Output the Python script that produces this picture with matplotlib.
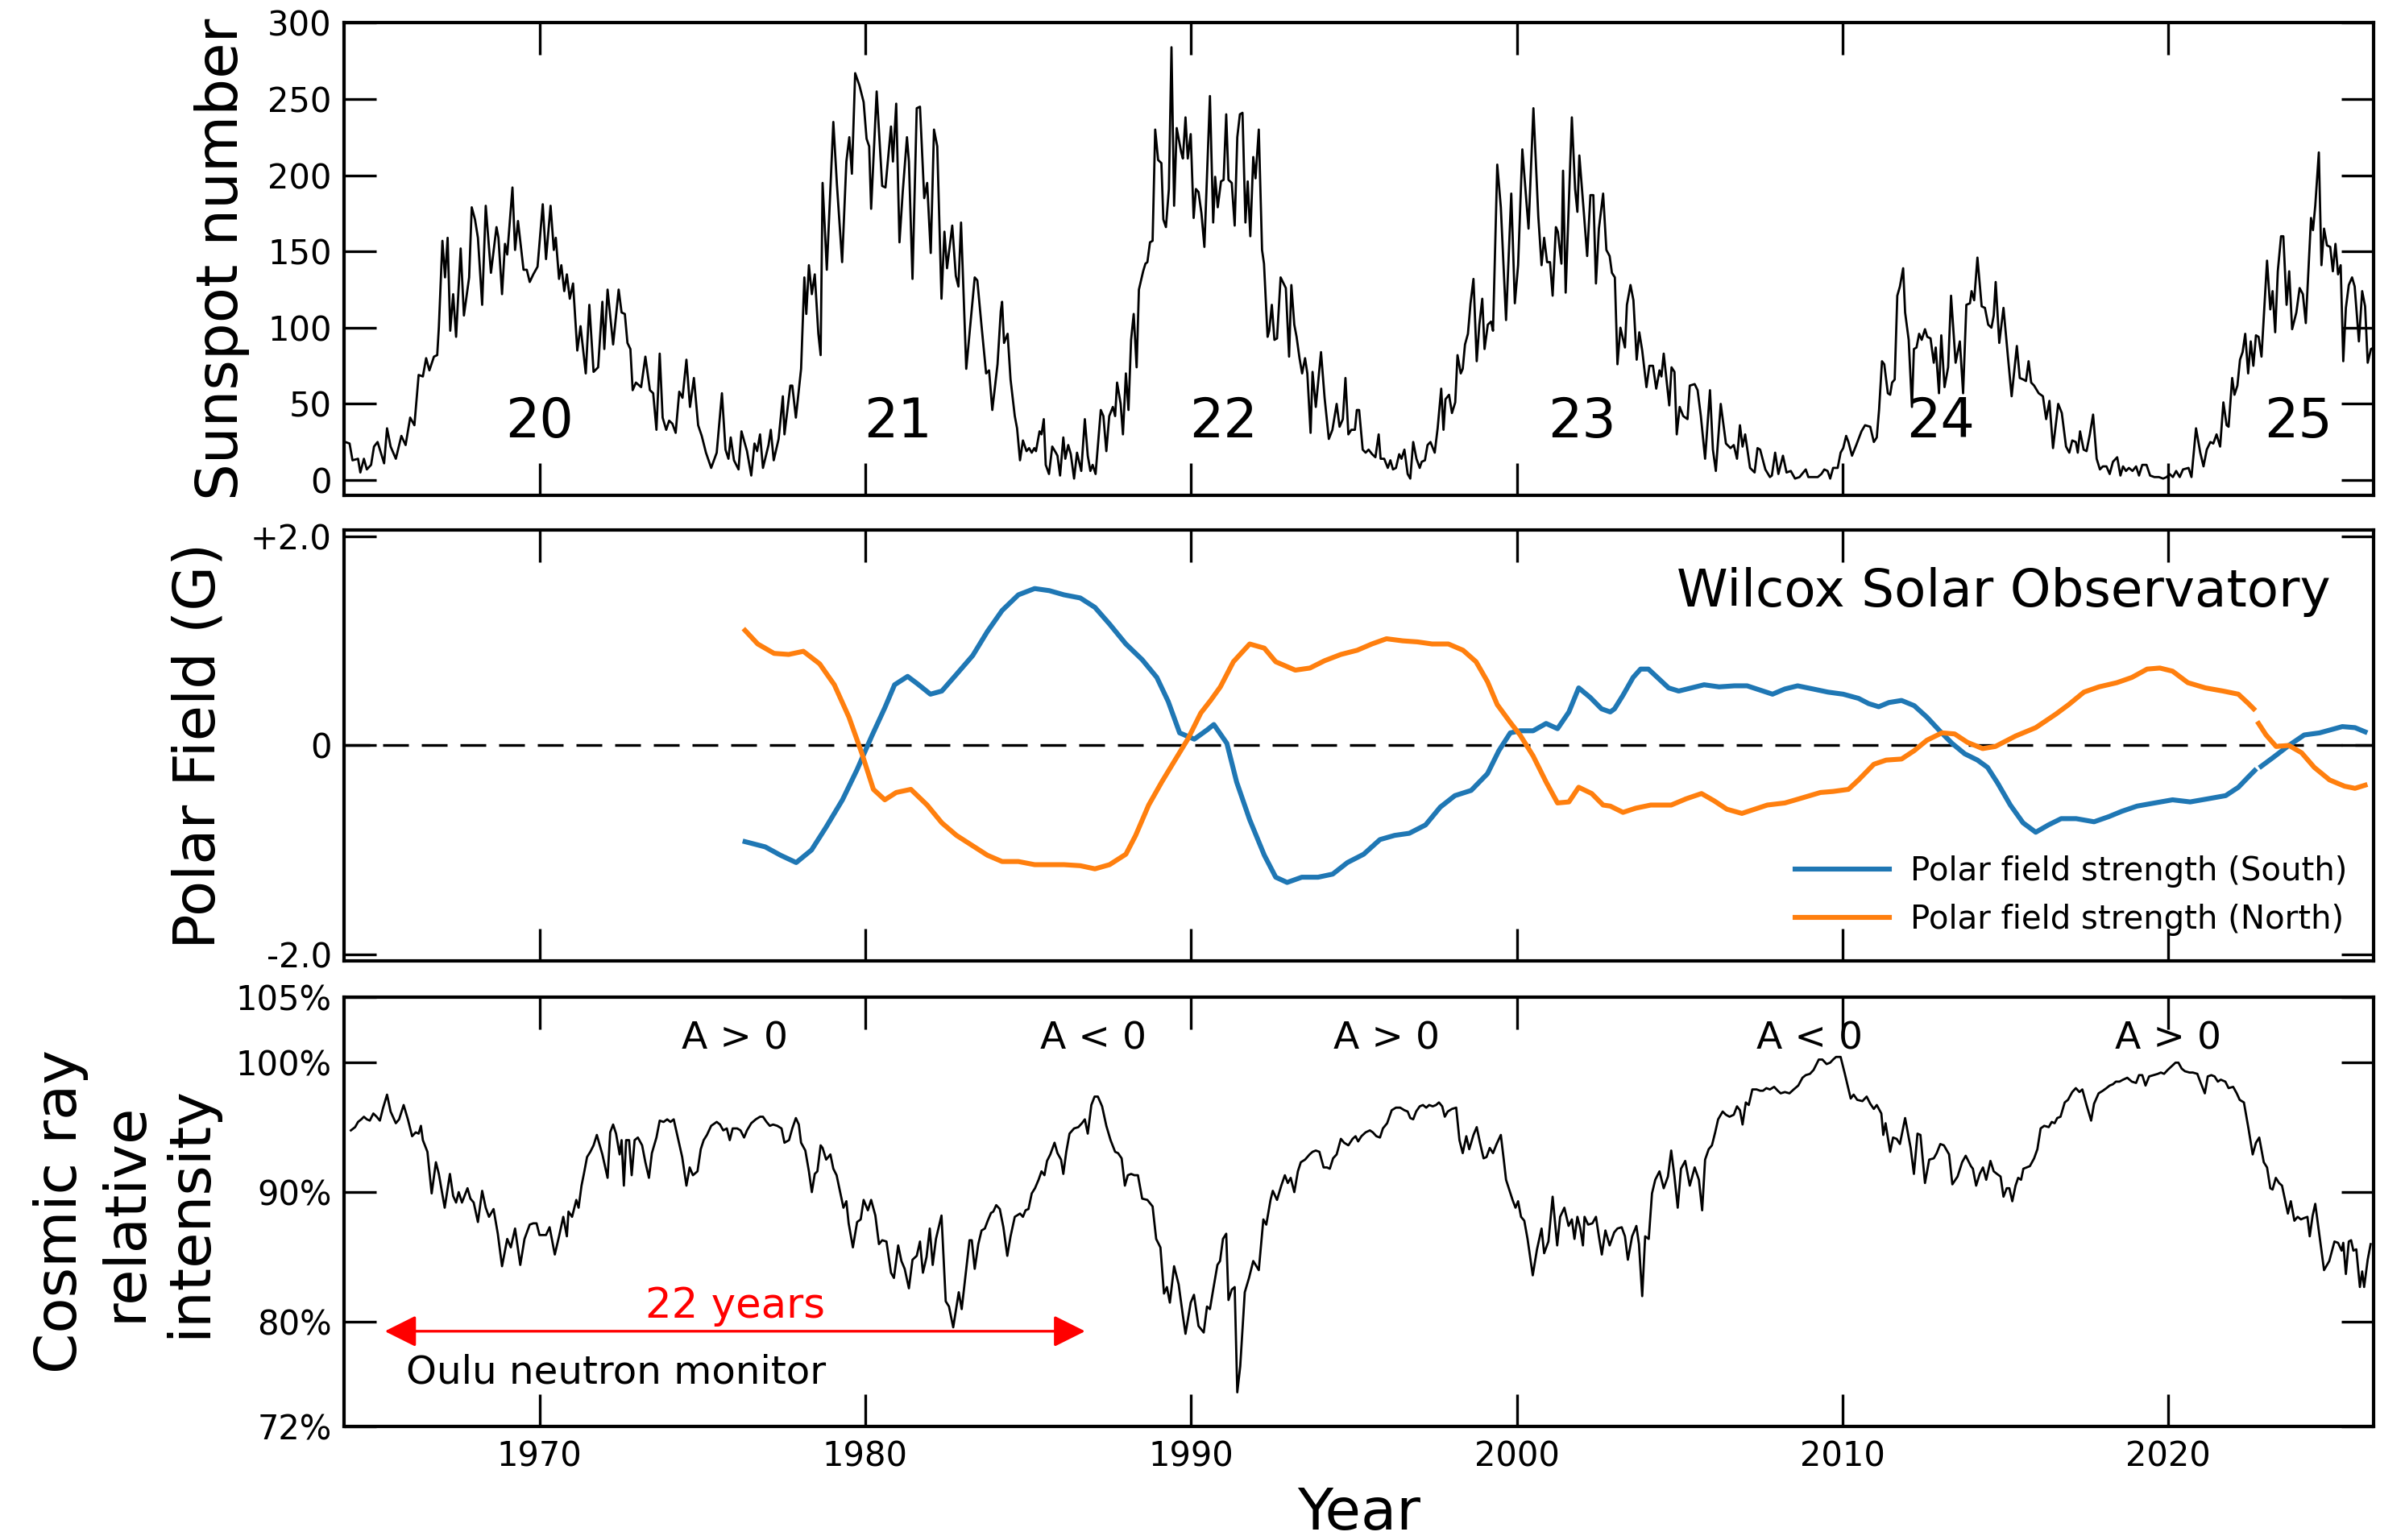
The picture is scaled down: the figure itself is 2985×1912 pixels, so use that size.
import numpy as np
import matplotlib
matplotlib.use("Agg")
import matplotlib.pyplot as plt

# ---- data (year, value) ----
sunspot_monthly = [
    (1964.04, 25), (1964.17, 24), (1964.26, 13), (1964.43, 14), (1964.50, 5), (1964.61, 14), (1964.70, 7),
    (1964.83, 10), (1964.92, 22), (1965.03, 25), (1965.23, 11), (1965.32, 34), (1965.43, 22), (1965.59, 14),
    (1965.76, 29), (1965.89, 23), (1966.03, 41), (1966.16, 36), (1966.29, 69), (1966.42, 68), (1966.52, 80),
    (1966.62, 72), (1966.76, 81), (1966.86, 82), (1966.91, 100), (1967.02, 157), (1967.10, 133), (1967.18, 159),
    (1967.26, 98), (1967.35, 122), (1967.44, 94), (1967.58, 152), (1967.68, 108), (1967.84, 133), (1967.92, 179),
    (1968.02, 171), (1968.11, 159), (1968.24, 115), (1968.35, 180), (1968.51, 136), (1968.68, 166), (1968.74, 159),
    (1968.85, 122), (1968.94, 155), (1969.01, 148), (1969.17, 192), (1969.25, 151), (1969.34, 170), (1969.51, 138),
    (1969.61, 138), (1969.70, 130), (1969.81, 135), (1969.94, 140), (1970.10, 181), (1970.20, 145), (1970.34, 180),
    (1970.44, 151), (1970.50, 159), (1970.60, 132), (1970.67, 141), (1970.76, 124), (1970.84, 135), (1970.93, 119),
    (1971.03, 129), (1971.16, 85), (1971.26, 101), (1971.42, 70), (1971.53, 115), (1971.66, 71), (1971.80, 74),
    (1971.93, 117), (1971.99, 86), (1972.09, 125), (1972.26, 89), (1972.43, 125), (1972.52, 110), (1972.62, 109),
    (1972.70, 90), (1972.79, 86), (1972.86, 59), (1972.96, 64), (1973.12, 61), (1973.25, 81), (1973.39, 59),
    (1973.49, 57), (1973.59, 33), (1973.69, 83), (1973.78, 41), (1973.89, 33), (1973.98, 39), (1974.08, 37),
    (1974.18, 31), (1974.29, 58), (1974.39, 54), (1974.51, 79), (1974.62, 48), (1974.74, 67), (1974.87, 36),
    (1974.98, 29), (1975.11, 18), (1975.27, 8), (1975.44, 18), (1975.60, 57), (1975.71, 20), (1975.80, 14),
    (1975.87, 28), (1975.97, 13), (1976.11, 7), (1976.20, 32), (1976.37, 19), (1976.50, 3), (1976.60, 24),
    (1976.68, 19), (1976.77, 30), (1976.86, 8), (1977.03, 23), (1977.10, 33), (1977.19, 13), (1977.34, 27),
    (1977.47, 55), (1977.52, 30), (1977.70, 62), (1977.76, 62), (1977.87, 41), (1978.03, 73), (1978.13, 133),
    (1978.19, 109), (1978.27, 141), (1978.36, 122), (1978.45, 135), (1978.56, 96), (1978.63, 82), (1978.69, 195),
    (1978.82, 138), (1979.02, 235), (1979.13, 194), (1979.29, 143), (1979.42, 209), (1979.51, 225), (1979.59, 201),
    (1979.69, 267), (1979.82, 259), (1979.95, 248), (1980.04, 224), (1980.12, 219), (1980.18, 178), (1980.35, 255),
    (1980.52, 193), (1980.62, 192), (1980.79, 232), (1980.85, 209), (1980.95, 247), (1981.05, 156), (1981.15, 189),
    (1981.28, 225), (1981.34, 209), (1981.45, 132), (1981.58, 244), (1981.68, 245), (1981.81, 185), (1981.90, 195),
    (1982.01, 149), (1982.11, 230), (1982.21, 219), (1982.34, 119), (1982.43, 163), (1982.51, 139), (1982.67, 167),
    (1982.78, 134), (1982.86, 127), (1982.94, 169), (1983.10, 73), (1983.36, 133), (1983.44, 131), (1983.57, 101),
    (1983.71, 70), (1983.80, 72), (1983.90, 46), (1984.06, 76), (1984.16, 111), (1984.20, 117), (1984.26, 90),
    (1984.37, 96), (1984.46, 66), (1984.59, 42),
    (1984.66, 34), (1984.75, 13), (1984.84, 26), (1984.95, 19), (1985.03, 21), (1985.11, 18), (1985.19, 21),
    (1985.24, 19), (1985.35, 32), (1985.41, 30), (1985.48, 40), (1985.54, 10), (1985.64, 4), (1985.74, 22),
    (1985.85, 18), (1985.90, 16), (1985.98, 3), (1986.08, 28), (1986.14, 14), (1986.23, 23), (1986.31, 17),
    (1986.41, 1), (1986.50, 18), (1986.63, 6), (1986.74, 40), (1986.83, 16), (1986.91, 6), (1986.98, 10),
    (1987.07, 4), (1987.23, 46), (1987.31, 42), (1987.40, 19), (1987.49, 42), (1987.60, 48), (1987.67, 42),
    (1987.73, 64), (1987.84, 50), (1987.91, 30), (1988.00, 70), (1988.08, 46), (1988.16, 92), (1988.24, 109),
    (1988.33, 74), (1988.40, 125), (1988.53, 137), (1988.60, 142), (1988.66, 143), (1988.74, 156), (1988.82, 157),
    (1988.90, 230), (1988.99, 210), (1989.09, 208), (1989.15, 171), (1989.23, 166), (1989.32, 191), (1989.40, 284),
    (1989.48, 180), (1989.56, 231), (1989.70, 215), (1989.75, 211), (1989.83, 238), (1989.90, 211), (1989.99, 227),
    (1990.08, 172), (1990.15, 191), (1990.23, 189), (1990.32, 175), (1990.41, 153), (1990.58, 252), (1990.68, 169),
    (1990.74, 199), (1990.82, 179), (1990.92, 196), (1991.00, 197), (1991.08, 240), (1991.15, 197), (1991.25, 195),
    (1991.34, 167), (1991.42, 225), (1991.50, 240), (1991.58, 241), (1991.67, 169), (1991.74, 196), (1991.82, 160),
    (1991.91, 212), (1991.98, 198), (1992.08, 230), (1992.18, 151), (1992.24, 142), (1992.35, 94), (1992.40, 98),
    (1992.48, 115), (1992.56, 92), (1992.64, 93), (1992.75, 133), (1992.91, 126), (1993.01, 81), (1993.08, 128),
    (1993.17, 102), (1993.24, 94), (1993.33, 80), (1993.41, 70), (1993.50, 80), (1993.57, 70), (1993.67, 31),
    (1993.73, 71), (1993.83, 48), (1993.99, 84), (1994.10, 54), (1994.23, 27), (1994.34, 33), (1994.47, 50),
    (1994.56, 35), (1994.66, 40), (1994.74, 67), (1994.83, 30), (1994.92, 33), (1995.03, 33), (1995.09, 46),
    (1995.16, 46), (1995.27, 20), (1995.36, 18), (1995.45, 20), (1995.56, 17), (1995.66, 15), (1995.76, 30),
    (1995.82, 14), (1995.93, 14), (1996.04, 8), (1996.12, 13), (1996.20, 7), (1996.29, 8), (1996.39, 17),
    (1996.46, 14), (1996.55, 20), (1996.65, 4), (1996.73, 1), (1996.82, 25), (1996.92, 14), (1997.02, 8),
    (1997.08, 12), (1997.18, 13), (1997.26, 23), (1997.35, 25), (1997.48, 18), (1997.57, 34), (1997.68, 60),
    (1997.75, 33), (1997.81, 53), (1997.92, 56), (1998.01, 44), (1998.11, 51), (1998.18, 82), (1998.28, 70),
    (1998.34, 73), (1998.41, 89), (1998.50, 96), (1998.58, 116), (1998.67, 132), (1998.77, 78), (1998.85, 102),
    (1998.94, 119), (1999.01, 86), (1999.11, 102), (1999.21, 104), (1999.27, 98), (1999.40, 207), (1999.51, 179),
    (1999.67, 105), (1999.83, 188), (1999.94, 116), (2000.04, 141), (2000.17, 217), (2000.36, 165), (2000.51, 244),
    (2000.66, 173), (2000.76, 141), (2000.84, 159), (2000.93, 143), (2001.02, 143), (2001.10, 121), (2001.20, 166),
    (2001.26, 163), (2001.37, 142), (2001.42, 203), (2001.50, 123), (2001.69, 238), (2001.79, 191), (2001.86, 176),
    (2001.92, 213), (2002.06, 175), (2002.16, 147), (2002.26, 187), (2002.35, 187), (2002.43, 129), (2002.52, 165),
    (2002.65, 188), (2002.75, 151), (2002.85, 147), (2002.92, 136), (2003.01, 133), (2003.09, 76), (2003.18, 100),
    (2003.32, 87), (2003.38, 115), (2003.49, 128), (2003.58, 118), (2003.68, 79), (2003.76, 97), (2003.85, 85),
    (2003.98, 61), (2004.07, 75), (2004.18, 75), (2004.28, 60), (2004.38, 72), (2004.44, 68), (2004.51, 83),
    (2004.60, 65), (2004.68, 49), (2004.75, 74), (2004.84, 71), (2004.91, 30), (2005.00, 48), (2005.11, 42),
    (2005.24, 40), (2005.31, 62),
    (2005.46, 63), (2005.55, 59), (2005.65, 42), (2005.78, 14), (2005.93, 59), (2006.02, 20), (2006.11, 6),
    (2006.26, 50), (2006.42, 24), (2006.56, 21), (2006.66, 23), (2006.76, 14), (2006.85, 36), (2006.93, 22),
    (2007.01, 30), (2007.16, 8), (2007.30, 5), (2007.39, 21), (2007.47, 20), (2007.63, 7), (2007.77, 2),
    (2007.83, 3), (2007.93, 18), (2008.03, 4), (2008.17, 16), (2008.28, 5), (2008.41, 6), (2008.54, 1),
    (2008.68, 2), (2008.87, 7), (2008.95, 2), (2009.11, 2), (2009.24, 2), (2009.35, 4), (2009.44, 7),
    (2009.54, 6), (2009.62, 1), (2009.71, 8), (2009.85, 8), (2009.94, 18), (2010.02, 21), (2010.11, 29),
    (2010.18, 25), (2010.29, 16), (2010.42, 23), (2010.58, 32), (2010.69, 36), (2010.85, 35), (2010.96, 25),
    (2011.05, 28), (2011.12, 46), (2011.21, 78), (2011.28, 76), (2011.39, 57), (2011.46, 56), (2011.52, 64),
    (2011.60, 66), (2011.68, 121), (2011.76, 127), (2011.86, 139), (2011.92, 110), (2012.03, 92), (2012.13, 48),
    (2012.19, 86), (2012.27, 87), (2012.35, 96), (2012.43, 92), (2012.53, 99), (2012.60, 94), (2012.70, 93),
    (2012.80, 77), (2012.86, 87), (2012.96, 57), (2013.03, 95), (2013.13, 61), (2013.24, 74), (2013.33, 121),
    (2013.47, 77), (2013.60, 91), (2013.70, 57), (2013.80, 115), (2013.91, 116), (2013.96, 124), (2014.04, 118),
    (2014.14, 146), (2014.27, 114), (2014.37, 113), (2014.47, 102), (2014.57, 100), (2014.64, 108), (2014.70, 130),
    (2014.81, 90), (2014.94, 113), (2015.08, 80), (2015.19, 55), (2015.35, 88), (2015.44, 67), (2015.55, 66),
    (2015.63, 65), (2015.71, 78), (2015.79, 64), (2015.88, 62), (2016.02, 57), (2016.15, 55), (2016.25, 40),
    (2016.35, 52), (2016.46, 21), (2016.62, 50), (2016.73, 44), (2016.86, 22), (2016.96, 18), (2017.05, 26),
    (2017.16, 25), (2017.22, 18), (2017.29, 32), (2017.40, 20), (2017.49, 19), (2017.59, 30), (2017.69, 43),
    (2017.80, 14), (2017.90, 7), (2017.99, 9), (2018.10, 9), (2018.20, 4), (2018.30, 12), (2018.43, 15),
    (2018.53, 3), (2018.61, 9), (2018.70, 6), (2018.79, 8), (2018.90, 6), (2019.01, 9), (2019.10, 3),
    (2019.20, 10), (2019.33, 10), (2019.44, 3), (2019.57, 2), (2019.71, 2), (2019.84, 1), (2019.95, 2),
    (2020.04, 4), (2020.14, 2), (2020.24, 6), (2020.35, 2), (2020.45, 7), (2020.62, 8), (2020.71, 2),
    (2020.85, 34), (2020.98, 18), (2021.08, 9), (2021.18, 20), (2021.29, 25), (2021.38, 24), (2021.48, 30),
    (2021.59, 22), (2021.69, 51), (2021.79, 36), (2021.85, 35), (2021.96, 67), (2022.03, 56), (2022.12, 62),
    (2022.20, 79), (2022.28, 84), (2022.36, 96), (2022.45, 70), (2022.53, 91), (2022.61, 75), (2022.69, 95),
    (2022.77, 94), (2022.86, 81), (2023.03, 144), (2023.13, 112), (2023.20, 124), (2023.28, 97), (2023.36, 137),
    (2023.46, 160), (2023.53, 160), (2023.63, 115), (2023.71, 137), (2023.80, 99), (2023.93, 110), (2024.03, 126),
    (2024.13, 122), (2024.22, 103), (2024.30, 137), (2024.38, 172), (2024.44, 164), (2024.51, 180), (2024.62, 215),
    (2024.70, 141), (2024.78, 165), (2024.87, 154), (2024.97, 153), (2025.05, 137), (2025.13, 155), (2025.21, 135),
    (2025.29, 141), (2025.37, 78), (2025.45, 113), (2025.54, 128), (2025.64, 133), (2025.72, 127), (2025.85, 91),
    (2025.95, 124), (2026.04, 114), (2026.12, 77), (2026.22, 86), (2026.31, 87),
]

# Wilcox polar field (G); nan marks the data gap
polar_south = [
    (1976.31, -0.92), (1976.93, -0.97), (1977.40, -1.05), (1977.88, -1.12), (1978.35, -1.00), (1978.80, -0.78),
    (1979.30, -0.52), (1979.75, -0.23), (1980.20, 0.09), (1980.60, 0.36), (1980.90, 0.58), (1981.30, 0.66),
    (1981.60, 0.59), (1982.00, 0.49), (1982.35, 0.52), (1982.80, 0.68), (1983.30, 0.86), (1983.75, 1.09),
    (1984.20, 1.29), (1984.70, 1.44), (1985.20, 1.50), (1985.65, 1.48), (1986.10, 1.44), (1986.60, 1.41),
    (1987.05, 1.32), (1987.50, 1.16), (1988.00, 0.97), (1988.50, 0.82), (1988.95, 0.65), (1989.30, 0.42),
    (1989.65, 0.12), (1990.10, 0.06), (1990.50, 0.15), (1990.70, 0.20), (1991.10, 0.02), (1991.40, -0.35),
    (1991.80, -0.71), (1992.25, -1.05), (1992.60, -1.26), (1992.95, -1.31), (1993.40, -1.26), (1993.90, -1.26),
    (1994.35, -1.23), (1994.80, -1.12), (1995.30, -1.04), (1995.80, -0.90), (1996.25, -0.86), (1996.70, -0.84),
    (1997.20, -0.76), (1997.65, -0.59), (1998.10, -0.48), (1998.60, -0.43), (1999.10, -0.27), (1999.45, -0.05),
    (1999.80, 0.12), (2000.10, 0.14), (2000.50, 0.14), (2000.90, 0.21), (2001.25, 0.16), (2001.60, 0.32),
    (2001.90, 0.55), (2002.25, 0.46), (2002.60, 0.35), (2002.87, 0.32), (2003.00, 0.35), (2003.26, 0.48),
    (2003.57, 0.65), (2003.80, 0.73), (2004.04, 0.73), (2004.35, 0.64), (2004.66, 0.55), (2004.97, 0.52),
    (2005.36, 0.55), (2005.75, 0.58), (2006.21, 0.56), (2006.68, 0.57), (2007.07, 0.57), (2007.46, 0.53),
    (2007.85, 0.49), (2008.23, 0.54), (2008.62, 0.57), (2009.09, 0.54), (2009.55, 0.51), (2010.02, 0.49),
    (2010.49, 0.45), (2010.80, 0.40), (2011.11, 0.37), (2011.42, 0.41), (2011.81, 0.43), (2012.20, 0.38),
    (2012.59, 0.27), (2012.98, 0.14), (2013.36, 0.02), (2013.75, -0.08), (2014.14, -0.14), (2014.45, -0.21),
    (2014.76, -0.36), (2015.15, -0.57), (2015.54, -0.74), (2015.93, -0.83), (2016.32, -0.76), (2016.71, -0.70),
    (2017.17, -0.70), (2017.72, -0.73), (2018.18, -0.68), (2018.57, -0.63), (2019.04, -0.58), (2019.58, -0.55),
    (2020.13, -0.52), (2020.67, -0.54), (2021.22, -0.51), (2021.76, -0.48), (2022.15, -0.40), (2022.46, -0.30),
    (2022.65, -0.24), (2022.74, np.nan), (2022.85, -0.20), (2023.24, -0.11), (2023.70, 0.00), (2024.17, 0.10),
    (2024.64, 0.12), (2025.34, 0.18), (2025.73, 0.17), (2026.04, 0.13),
]
polar_north = [
    (1976.31, 1.10), (1976.70, 0.97), (1977.20, 0.88), (1977.65, 0.87), (1978.10, 0.90), (1978.60, 0.78),
    (1979.05, 0.58), (1979.50, 0.27), (1979.90, -0.08), (1980.25, -0.42), (1980.60, -0.52), (1980.95, -0.45),
    (1981.40, -0.42), (1981.90, -0.57), (1982.35, -0.74), (1982.80, -0.86), (1983.30, -0.96), (1983.75, -1.05),
    (1984.20, -1.11), (1984.70, -1.11), (1985.20, -1.14), (1985.65, -1.14), (1986.10, -1.14), (1986.60, -1.15),
    (1987.05, -1.18), (1987.50, -1.14), (1988.00, -1.04), (1988.30, -0.86), (1988.70, -0.57), (1989.10, -0.35),
    (1989.45, -0.17), (1989.90, 0.06), (1990.30, 0.31), (1990.60, 0.43), (1990.90, 0.56), (1991.30, 0.80),
    (1991.80, 0.97), (1992.25, 0.93), (1992.60, 0.80), (1993.20, 0.72), (1993.65, 0.74), (1994.10, 0.81),
    (1994.60, 0.87), (1995.10, 0.91), (1995.55, 0.97), (1996.00, 1.02), (1996.50, 1.00), (1996.95, 0.99),
    (1997.40, 0.97), (1997.90, 0.97), (1998.35, 0.91), (1998.75, 0.80), (1999.10, 0.61), (1999.40, 0.39),
    (1999.80, 0.22), (2000.10, 0.10), (2000.50, -0.10), (2000.90, -0.35), (2001.25, -0.55), (2001.60, -0.54),
    (2001.90, -0.40), (2002.30, -0.46), (2002.65, -0.57), (2002.87, -0.58), (2003.26, -0.64), (2003.65, -0.60),
    (2004.11, -0.57), (2004.74, -0.57), (2005.20, -0.51), (2005.67, -0.46), (2006.06, -0.53), (2006.45, -0.61),
    (2006.91, -0.65), (2007.30, -0.61), (2007.69, -0.57), (2008.23, -0.55), (2008.78, -0.50), (2009.32, -0.45),
    (2009.71, -0.44), (2010.18, -0.42), (2010.49, -0.33), (2010.96, -0.18), (2011.34, -0.14), (2011.81, -0.13),
    (2012.20, -0.05), (2012.59, 0.05), (2013.05, 0.12), (2013.44, 0.11), (2013.83, 0.03), (2014.30, -0.03),
    (2014.69, -0.01), (2015.31, 0.09), (2015.93, 0.17), (2016.55, 0.30), (2016.94, 0.39), (2017.41, 0.51),
    (2017.87, 0.56), (2018.42, 0.60), (2018.88, 0.65), (2019.35, 0.73), (2019.74, 0.74), (2020.13, 0.71),
    (2020.60, 0.60), (2021.14, 0.55), (2021.68, 0.52), (2022.15, 0.49), (2022.46, 0.40), (2022.62, 0.35),
    (2022.70, np.nan), (2022.77, 0.21), (2023.00, 0.10), (2023.31, -0.01), (2023.70, 0.00), (2024.09, -0.07),
    (2024.48, -0.21), (2024.95, -0.33), (2025.41, -0.39), (2025.73, -0.41), (2026.04, -0.38),
]

# Oulu neutron monitor, relative intensity (%)
oulu_monthly = [
    (1964.21, 94.75), (1964.34, 95.0), (1964.43, 95.4), (1964.53, 95.6), (1964.61, 95.8), (1964.70, 95.6),
    (1964.79, 95.5), (1964.90, 96.05), (1965.00, 95.8), (1965.10, 95.5), (1965.19, 96.4), (1965.32, 97.5),
    (1965.43, 96.2), (1965.59, 95.3), (1965.69, 95.6), (1965.83, 96.7), (1965.96, 95.6), (1966.09, 94.3),
    (1966.20, 94.6), (1966.29, 94.5), (1966.36, 95.1), (1966.42, 94.0), (1966.56, 93.1), (1966.69, 89.9),
    (1966.82, 92.3), (1966.91, 91.4), (1967.09, 88.8), (1967.25, 91.4), (1967.35, 89.7), (1967.44, 89.2),
    (1967.52, 90.0), (1967.62, 89.2), (1967.79, 90.3), (1967.88, 89.5), (1967.98, 89.2), (1968.11, 87.7),
    (1968.24, 90.1), (1968.35, 88.8), (1968.45, 88.1), (1968.59, 88.7), (1968.72, 86.8), (1968.85, 84.3),
    (1969.01, 86.4), (1969.12, 85.75), (1969.25, 87.2), (1969.41, 84.4), (1969.54, 86.4), (1969.70, 87.5),
    (1969.81, 87.6), (1969.91, 87.6), (1970.00, 86.7), (1970.20, 86.7), (1970.31, 87.3), (1970.47, 85.2),
    (1970.60, 86.6), (1970.73, 88.1), (1970.84, 86.6), (1970.89, 88.5), (1971.00, 88.1), (1971.13, 89.4),
    (1971.20, 88.8), (1971.29, 90.5), (1971.37, 91.5), (1971.46, 92.7), (1971.56, 93.1), (1971.66, 93.6),
    (1971.76, 94.4), (1971.93, 92.9), (1972.09, 91.1), (1972.17, 94.6), (1972.26, 95.2), (1972.35, 94.5),
    (1972.46, 92.9), (1972.52, 94.0), (1972.59, 90.5), (1972.66, 94.0), (1972.75, 94.0), (1972.83, 91.3),
    (1972.92, 94.0), (1973.02, 94.2), (1973.15, 93.6), (1973.25, 92.3), (1973.36, 91.1), (1973.45, 93.0),
    (1973.59, 94.2), (1973.69, 95.5), (1973.81, 95.4), (1973.92, 95.6), (1974.02, 95.4), (1974.12, 95.6),
    (1974.21, 94.6), (1974.38, 92.7), (1974.51, 90.5), (1974.61, 91.9), (1974.71, 91.3), (1974.85, 91.6),
    (1974.95, 93.3), (1975.04, 94.0), (1975.14, 94.4), (1975.27, 95.1), (1975.44, 95.4), (1975.54, 95.2),
    (1975.64, 94.75), (1975.75, 94.9), (1975.84, 94.0), (1975.93, 94.9), (1976.07, 94.9), (1976.17, 94.75),
    (1976.28, 94.2), (1976.37, 94.75), (1976.50, 95.3), (1976.64, 95.6), (1976.77, 95.8), (1976.86, 95.8),
    (1976.97, 95.4), (1977.07, 95.1), (1977.17, 95.2), (1977.30, 95.1), (1977.43, 94.9), (1977.52, 93.8),
    (1977.66, 94.0), (1977.76, 94.9), (1977.87, 95.7), (1977.96, 95.2), (1978.03, 93.8), (1978.16, 93.2),
    (1978.27, 91.6), (1978.36, 90.0), (1978.45, 91.4), (1978.53, 91.6), (1978.63, 93.6), (1978.69, 93.4),
    (1978.80, 92.5), (1978.93, 92.9), (1979.02, 91.8), (1979.12, 91.3), (1979.22, 90.1), (1979.33, 88.8),
    (1979.42, 89.3), (1979.49, 87.6), (1979.62, 85.75), (1979.75, 87.7), (1979.86, 87.9), (1979.95, 89.4),
    (1980.08, 88.6), (1980.18, 89.4), (1980.31, 88.2), (1980.42, 86.0), (1980.52, 86.3), (1980.65, 86.2),
    (1980.79, 83.8), (1980.88, 83.4), (1981.01, 85.9), (1981.11, 84.7), (1981.21, 84.1), (1981.34, 82.6),
    (1981.45, 84.8), (1981.58, 85.1), (1981.68, 86.2), (1981.77, 83.8), (1981.88, 85.0), (1981.98, 87.2),
    (1982.07, 84.4), (1982.17, 86.4), (1982.34, 88.2), (1982.47, 81.6), (1982.57, 81.2), (1982.70, 79.6),
    (1982.87, 82.3), (1982.96, 81.0), (1983.10, 84.1), (1983.20, 86.3), (1983.27, 86.3), (1983.36, 84.1),
    (1983.47, 86.0), (1983.57, 87.05), (1983.67, 87.2), (1983.76, 87.8), (1983.86, 88.4), (1983.93, 88.5),
    (1984.02, 89.0), (1984.13, 88.7), (1984.24, 87.3), (1984.36, 85.1), (1984.46, 86.6), (1984.59, 88.1),
    (1984.75, 88.35), (1984.84, 88.1), (1984.92, 88.6), (1985.01, 88.7), (1985.11, 89.9), (1985.21, 90.3),
    (1985.32, 90.95), (1985.41, 91.6), (1985.50, 91.3), (1985.58, 92.4), (1985.68, 92.9), (1985.81, 93.8),
    (1985.90, 93.0), (1986.01, 92.5), (1986.08, 91.4), (1986.17, 93.1), (1986.27, 94.5), (1986.41, 94.9),
    (1986.54, 95.0), (1986.65, 95.3), (1986.74, 95.6), (1986.83, 94.5), (1986.94, 96.7), (1987.04, 97.35),
    (1987.14, 97.35), (1987.27, 96.6), (1987.40, 95.1), (1987.53, 94.0), (1987.67, 93.1), (1987.76, 93.0),
    (1987.87, 92.6), (1987.97, 90.5), (1988.06, 91.3), (1988.16, 91.4), (1988.26, 91.3), (1988.37, 91.3),
    (1988.50, 89.5), (1988.66, 89.4), (1988.82, 88.9), (1988.93, 86.4), (1989.06, 85.75), (1989.17, 82.2),
    (1989.26, 82.7), (1989.35, 81.5), (1989.48, 84.3), (1989.62, 82.9), (1989.75, 80.5), (1989.83, 79.1),
    (1989.99, 81.5), (1990.09, 82.1), (1990.23, 79.7), (1990.39, 79.2), (1990.49, 81.2), (1990.58, 81.0),
    (1990.68, 82.5), (1990.81, 84.4), (1990.89, 84.7), (1990.98, 86.4), (1991.08, 86.8), (1991.15, 81.7),
    (1991.25, 82.5), (1991.34, 82.7), (1991.42, 74.6), (1991.51, 76.6), (1991.65, 82.3), (1991.78, 83.4),
    (1991.91, 84.7), (1992.08, 84.0), (1992.22, 87.9), (1992.31, 87.5), (1992.44, 89.4), (1992.51, 90.1),
    (1992.64, 89.4), (1992.77, 90.5), (1992.88, 91.3), (1992.97, 90.7), (1993.06, 91.1), (1993.17, 90.0),
    (1993.28, 91.6), (1993.37, 92.3), (1993.50, 92.5), (1993.64, 92.9), (1993.73, 93.1), (1993.83, 93.2),
    (1993.94, 93.1), (1994.07, 91.9), (1994.17, 91.9), (1994.26, 91.8), (1994.36, 92.6), (1994.47, 92.9),
    (1994.60, 94.1), (1994.70, 93.8), (1994.83, 93.6), (1994.96, 94.1), (1995.05, 94.3), (1995.13, 93.9),
    (1995.23, 94.3), (1995.36, 94.6), (1995.49, 94.75), (1995.58, 94.6), (1995.69, 94.3), (1995.80, 94.2),
    (1995.89, 94.9), (1996.02, 95.3), (1996.16, 96.3), (1996.29, 96.5), (1996.42, 96.5), (1996.55, 96.3),
    (1996.65, 96.2), (1996.73, 95.7), (1996.82, 95.6), (1996.91, 96.2), (1997.02, 96.6), (1997.12, 96.7),
    (1997.22, 96.5), (1997.31, 96.7), (1997.42, 96.6), (1997.52, 96.7), (1997.61, 96.9), (1997.71, 96.6),
    (1997.79, 95.8), (1997.88, 96.2), (1998.01, 96.4), (1998.14, 96.5), (1998.24, 94.0), (1998.34, 93.0),
    (1998.45, 94.3), (1998.54, 93.3), (1998.67, 94.4), (1998.77, 95.0), (1998.87, 93.8), (1998.98, 92.6),
    (1999.07, 92.7), (1999.17, 93.4), (1999.27, 93.0), (1999.38, 93.7), (1999.51, 94.4), (1999.60, 92.5),
    (1999.67, 90.95), (1999.78, 90.1), (1999.87, 89.4), (1999.96, 88.8), (2000.04, 89.3), (2000.13, 88.1),
    (2000.23, 87.8), (2000.33, 86.4), (2000.49, 83.6), (2000.62, 85.6), (2000.76, 87.2), (2000.84, 85.3),
    (2000.97, 86.2), (2001.10, 89.65), (2001.24, 85.9), (2001.33, 88.1), (2001.46, 88.8), (2001.59, 87.4),
    (2001.69, 87.9), (2001.77, 86.4), (2001.86, 88.1), (2001.95, 87.2), (2002.03, 85.9), (2002.08, 88.1),
    (2002.19, 87.5), (2002.32, 87.6), (2002.43, 88.1), (2002.52, 86.6), (2002.61, 85.2), (2002.72, 87.05),
    (2002.85, 85.9), (2002.99, 86.9), (2003.09, 87.2), (2003.22, 87.3), (2003.32, 86.6), (2003.41, 84.8),
    (2003.54, 86.6), (2003.67, 87.4), (2003.75, 86.0), (2003.85, 82.0), (2003.94, 86.6), (2004.05, 86.4),
    (2004.15, 89.9), (2004.25, 90.95), (2004.38, 91.6), (2004.51, 90.3), (2004.64, 91.2), (2004.74, 93.2),
    (2004.84, 91.2), (2004.94, 88.8), (2005.04, 91.8), (2005.17, 92.4), (2005.31, 90.5),
    (2005.46, 91.9), (2005.59, 90.95), (2005.69, 88.6), (2005.78, 92.5), (2005.89, 93.3), (2005.99, 93.6),
    (2006.09, 94.6), (2006.18, 95.6), (2006.32, 96.2), (2006.42, 95.95), (2006.53, 95.8), (2006.66, 95.95),
    (2006.76, 96.6), (2006.85, 96.3), (2006.93, 95.2), (2007.03, 96.9), (2007.12, 96.7), (2007.23, 97.9),
    (2007.36, 97.9), (2007.47, 97.8), (2007.56, 97.8), (2007.66, 98.0), (2007.77, 97.9), (2007.90, 98.1),
    (2008.01, 97.8), (2008.10, 97.6), (2008.23, 97.7), (2008.37, 97.6), (2008.50, 97.9), (2008.64, 98.2),
    (2008.77, 98.8), (2008.87, 99.0), (2009.00, 99.1), (2009.11, 99.4), (2009.27, 100.2), (2009.38, 100.2),
    (2009.51, 99.85), (2009.62, 99.96), (2009.71, 100.2), (2009.80, 100.4), (2009.94, 100.4), (2010.07, 99.1),
    (2010.25, 97.2), (2010.34, 97.5), (2010.45, 97.1), (2010.61, 97.0), (2010.74, 97.35), (2010.85, 96.8),
    (2010.96, 96.4), (2011.05, 96.7), (2011.19, 96.05), (2011.25, 94.4), (2011.32, 95.3), (2011.46, 93.1),
    (2011.55, 94.2), (2011.66, 94.1), (2011.76, 93.7), (2011.92, 95.7), (2012.09, 93.4), (2012.19, 91.4),
    (2012.30, 94.5), (2012.39, 94.4), (2012.53, 90.7), (2012.66, 92.5), (2012.80, 92.6), (2012.89, 93.0),
    (2013.00, 93.7), (2013.11, 93.6), (2013.27, 92.9), (2013.37, 90.6), (2013.53, 91.2), (2013.67, 92.3),
    (2013.78, 92.8), (2013.94, 92.0), (2014.00, 91.8), (2014.10, 90.5), (2014.21, 91.4), (2014.31, 91.9),
    (2014.41, 90.95), (2014.54, 92.4), (2014.64, 91.6), (2014.74, 91.4), (2014.85, 91.2), (2014.94, 89.65),
    (2015.04, 90.3), (2015.12, 90.3), (2015.21, 89.3), (2015.31, 90.5), (2015.39, 91.1), (2015.48, 90.95),
    (2015.55, 91.8), (2015.65, 91.9), (2015.75, 92.0), (2015.88, 92.6), (2015.98, 93.3), (2016.08, 94.9),
    (2016.19, 95.1), (2016.33, 95.0), (2016.42, 95.4), (2016.51, 95.3), (2016.59, 95.7), (2016.69, 95.8),
    (2016.82, 96.9), (2016.92, 97.1), (2017.05, 97.7), (2017.16, 98.0), (2017.27, 97.7), (2017.36, 97.9),
    (2017.49, 96.7), (2017.63, 95.5), (2017.72, 96.8), (2017.86, 97.6), (2017.99, 97.8), (2018.10, 98.0),
    (2018.20, 98.2), (2018.30, 98.3), (2018.39, 98.5), (2018.50, 98.5), (2018.61, 98.65), (2018.74, 98.8),
    (2018.88, 98.5), (2019.01, 98.4), (2019.10, 99.0), (2019.20, 99.0), (2019.30, 98.2), (2019.41, 98.9),
    (2019.55, 99.0), (2019.68, 99.1), (2019.77, 99.2), (2019.87, 99.1), (2019.98, 99.4), (2020.11, 99.7),
    (2020.22, 99.96), (2020.31, 99.96), (2020.41, 99.5), (2020.51, 99.3), (2020.65, 99.2), (2020.75, 99.2),
    (2020.89, 99.1), (2020.98, 98.5), (2021.12, 97.6), (2021.21, 98.9), (2021.32, 99.0), (2021.42, 98.9),
    (2021.52, 98.5), (2021.61, 98.65), (2021.75, 98.5), (2021.85, 98.0), (2021.99, 98.1), (2022.10, 97.6),
    (2022.19, 97.1), (2022.32, 96.9), (2022.46, 94.9), (2022.59, 92.9), (2022.69, 93.8), (2022.79, 94.2),
    (2022.93, 92.3), (2023.03, 91.9), (2023.13, 90.3), (2023.20, 90.2), (2023.30, 91.1), (2023.40, 90.7),
    (2023.49, 90.5), (2023.67, 88.35), (2023.76, 89.3), (2023.87, 87.8), (2023.97, 88.1), (2024.07, 87.9),
    (2024.16, 88.0), (2024.27, 88.1), (2024.34, 86.6), (2024.43, 88.2), (2024.51, 89.1), (2024.78, 84.0),
    (2024.94, 84.7), (2025.10, 86.2), (2025.21, 86.1), (2025.32, 85.5), (2025.37, 86.1), (2025.45, 83.7),
    (2025.54, 86.2), (2025.61, 86.3), (2025.68, 85.5), (2025.77, 85.6), (2025.88, 82.7), (2025.95, 83.9),
    (2026.01, 82.7), (2026.12, 84.8), (2026.21, 86.0),
]

cycle_labels = ["20", "21", "22", "23", "24", "25"]
cycle_years = [1970, 1981, 1991, 2002, 2013, 2024]
polarity_labels = ["A > 0", "A < 0", "A > 0", "A < 0", "A > 0"]
polarity_years = [1976, 1987, 1996, 2009, 2020]
year_ticks = [1970, 1980, 1990, 2000, 2010, 2020]
ssn_ticks = [0, 50, 100, 150, 200, 250, 300]
field_ticks = [-2.0, 0, 2.0]
field_tick_labels = ["-2.0", "0", "+2.0"]
cr_ticks = [72, 80, 90, 100, 105]
cr_tick_labels = ["72%", "80%", "90%", "100%", "105%"]

ssn = np.array(sunspot_monthly)
south = np.array(polar_south)
north = np.array(polar_north)
oulu = np.array(oulu_monthly)

# ---- figure ----
fig = plt.figure(figsize=(14.925, 9.56), dpi=200)
left, width = 0.14305, 0.84388
ax1 = fig.add_axes([left, 0.67835, width, 0.3068])
ax2 = fig.add_axes([left, 0.37605, width, 0.27981], sharex=ax1)
ax3 = fig.add_axes([left, 0.07395, width, 0.27856], sharex=ax1)

for ax in (ax1, ax2, ax3):
    ax.tick_params(direction="in", length=14.4, width=1.2, top=True, right=True,
                   labelsize=15, pad=5.5)
    ax.tick_params(axis="x", pad=6)
    for sp in ax.spines.values():
        sp.set_linewidth(1.5)
ax1.tick_params(labelbottom=False)
ax2.tick_params(labelbottom=False)

# panel 1: sunspot number
ax1.plot(ssn[:, 0], ssn[:, 1], color="black", lw=1.0)
ax1.set_ylim(-10, 300)
ax1.set_yticks(ssn_ticks)
ax1.set_xlim(1964.0, 2026.3)
ax1.set_xticks(year_ticks)
for lab, yr in zip(cycle_labels, cycle_years):
    ax1.text(yr, 28, lab, fontsize=24, ha="center", va="baseline")
ax1.set_ylabel("Sunspot number", fontsize=26, va="center")
ax1.yaxis.set_label_coords(-0.060, 0.5)

# panel 2: polar field
ax2.axhline(0, color="black", lw=1.2, ls=(0, (9.6, 4.8)))
ax2.plot(south[:, 0], south[:, 1], color="#1f77b4", lw=2.2,
         label="Polar field strength (South)")
ax2.plot(north[:, 0], north[:, 1], color="#ff7f0e", lw=2.2,
         label="Polar field strength (North)")
ax2.set_ylim(-2.06, 2.06)
ax2.set_yticks(field_ticks)
ax2.set_yticklabels(field_tick_labels)
ax2.text(0.979, 0.822, "Wilcox Solar Observatory", transform=ax2.transAxes,
         fontsize=23.2, ha="right", va="baseline")
ax2.legend(loc="lower right", bbox_to_anchor=(0.987, 0.058), frameon=False,
           fontsize=14.5, handlelength=2.9, handletextpad=0.65, labelspacing=0.5,
           borderpad=0, borderaxespad=0)
ax2.set_ylabel("Polar Field (G)", fontsize=26, va="center")
ax2.yaxis.set_label_coords(-0.0715, 0.5)

# panel 3: cosmic rays
ax3.plot(oulu[:, 0], oulu[:, 1], color="black", lw=1.0)
ax3.set_ylim(72, 105)
ax3.set_yticks(cr_ticks)
ax3.set_yticklabels(cr_tick_labels)
for lab, yr in zip(polarity_labels, polarity_years):
    ax3.text(yr, 101.0, lab, fontsize=17, ha="center", va="baseline")
ax3.annotate("", xy=(1986.75, 79.3), xytext=(1965.25, 79.3),
             arrowprops=dict(arrowstyle="<|-|>,head_length=0.4,head_width=0.2",
                             color="red", lw=1.2, mutation_scale=30,
                             shrinkA=0, shrinkB=0))
ax3.text(1976.0, 80.35, "22 years", color="red", fontsize=18.5, ha="center", va="baseline")
ax3.text(1965.9, 75.3, "Oulu neutron monitor", fontsize=17.4, ha="left", va="baseline")
ax3.set_ylabel("Cosmic ray\nrelative\nintensity", fontsize=26, va="center",
               linespacing=1.2)
ax3.yaxis.set_label_coords(-0.1077, 0.5)
ax3.set_xlabel("Year", fontsize=26)
ax3.xaxis.set_label_coords(0.5, -0.14)

fig.savefig("out.png", dpi=200)
